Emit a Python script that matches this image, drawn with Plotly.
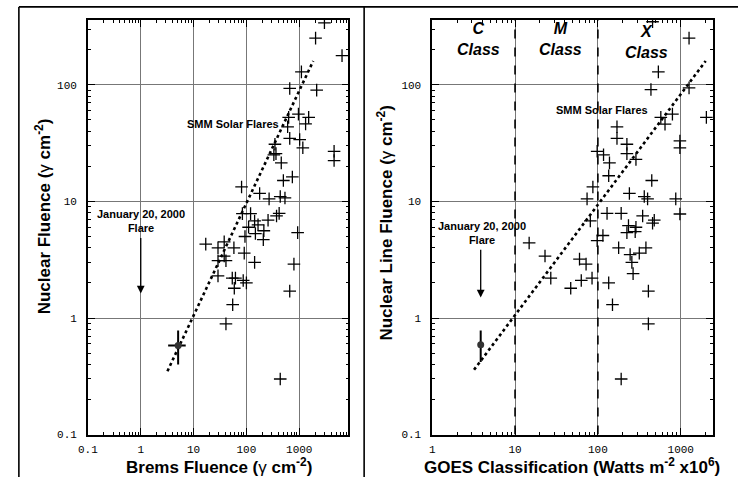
import numpy as np
import plotly.graph_objects as go

W, H = 738, 484

# ---------------- data ----------------
brems_fluence = [3000, 2040, 6460, 1100, 661, 2140, 966, 1510, 631, 1320, 603, 661, 1020, 1170,
                 347, 363, 331, 457, 4570, 4570, 501, 741, 81, 178, 269, 437, 537, 84, 120, 417,
                 372, 257, 143, 110, 166, 148, 214, 209, 94, 933, 17, 29, 38, 58, 91, 38, 29, 41,
                 143, 29, 794, 54, 62, 87, 100, 59, 661, 55, 41, 437]
nuclear_fluence = [340, 251, 178, 129, 93, 90, 56, 52.5, 52.5, 46.2, 43.6, 34.7, 33.9, 28.8,
                   30.9, 25.7, 25.1, 21.4, 26.9, 22.4, 15.1, 16.2, 13.3, 11.7, 10.5, 11.0, 10.7, 7.85, 7.85, 7.9,
                   7.5, 6.9, 6.8, 6.0, 6.3, 5.3, 5.6, 4.7, 5.0, 5.4, 4.3, 4.0, 4.5, 4.0, 3.6, 3.4, 3.1, 3.1,
                   3.0, 2.3, 2.9, 2.2, 2.2, 2.1, 2.0, 1.8, 1.7, 1.3, 0.89, 0.30]

goes_class = [457, 1260, 537, 437, 1260, 2040, 794, 575, 646, 170, 170, 224, 977, 977,
              98, 117, 224, 288, 138, 135, 447, 87, 74, 240, 363, 398, 871, 977, 129, 191,
              347, 479, 457, 234, 288, 224, 282, 81, 98, 115, 178, 245, 257, 316, 380, 266,
              14.8, 23, 27, 60, 72, 63, 47, 85, 135, 150, 407, 407, 191]
nuclear_line_fluence = [347, 251, 129, 91, 94, 52.5, 56, 52.5, 46, 43.6, 34.7, 30.9, 33, 28.8,
                        26.9, 25.1, 25.7, 22.9, 21.4, 16.6, 15.1, 13.3, 10.5, 11.7, 11.0, 10.5, 10.5, 7.8, 7.9, 7.9,
                        7.5, 6.9, 6.5, 6.2, 6.0, 5.4, 5.5, 6.8, 4.6, 5.1, 4.0, 3.5, 3.0, 3.6, 4.0, 2.4,
                        4.4, 3.4, 2.2, 3.2, 2.9, 2.1, 1.8, 2.2, 2.0, 1.3, 1.7, 0.89, 0.30]

# January 20, 2000 flare
jan_brems = [5.1]
jan_brems_lo = [3.3]
jan_brems_hi = [7.1]
jan_nuclear = [0.58]
jan_nuclear_lo = [0.40]
jan_nuclear_hi = [0.78]
jan_goes = [3.85]
jan_line = [0.59]
jan_line_lo = [0.42]
jan_line_hi = [0.78]

# fitted trend lines (end points)
fit_brems_x = [3.2, 1840]
fit_brems_y = [0.35, 160]
fit_goes_x = [3.2, 2000]
fit_goes_y = [0.36, 160]

# GOES class boundaries
class_bounds = [10, 100]
class_names = ["C", "M", "X"]

# tick labels
x1_ticks = [0.1, 1, 10, 100, 1000]
x1_labels = ["0.1", "1", "10", "100", "1000"]
x2_ticks = [1, 10, 100, 1000]
x2_labels = ["1", "10", "100", "1000"]
y_ticks = [0.1, 1, 10, 100]
y_labels = ["0.1", "1", "10", "100"]

# ---------------- layout geometry ----------------
def px(x):
    return x / W

def py(y):
    return 1 - y / H

Y_RANGE = [-1, 2.558]
X1_RANGE = [-1, 3.93]
X2_RANGE = [0, 3.39]

def minor_vals(lo_exp, hi_exp):
    return [m * 10.0 ** e for e in range(lo_exp, hi_exp) for m in range(2, 10)]

fig = go.Figure()

cross = dict(symbol="cross-thin", size=9, color="black", line=dict(color="black", width=1.3))

# --- left panel
fig.add_trace(go.Scatter(x=brems_fluence, y=nuclear_fluence, mode="markers", marker=cross,
                         xaxis="x", yaxis="y", showlegend=False))
fig.add_trace(go.Scatter(x=fit_brems_x, y=fit_brems_y, mode="lines",
                         line=dict(color="black", width=2.6, dash="dot"),
                         xaxis="x", yaxis="y", showlegend=False))
fig.add_trace(go.Scatter(
    x=jan_brems, y=jan_nuclear, mode="markers",
    marker=dict(symbol="circle", size=7, color="#333"),
    error_x=dict(type="data", symmetric=False,
                 array=[h - v for h, v in zip(jan_brems_hi, jan_brems)],
                 arrayminus=[v - l for l, v in zip(jan_brems_lo, jan_brems)],
                 color="black", thickness=2, width=0),
    error_y=dict(type="data", symmetric=False,
                 array=[h - v for h, v in zip(jan_nuclear_hi, jan_nuclear)],
                 arrayminus=[v - l for l, v in zip(jan_nuclear_lo, jan_nuclear)],
                 color="black", thickness=2, width=0),
    xaxis="x", yaxis="y", showlegend=False))

# --- right panel
top_val = 10 ** Y_RANGE[1]
for b in class_bounds:
    fig.add_trace(go.Scatter(x=[b, b], y=[0.1, top_val], mode="lines",
                             line=dict(color="black", width=1.6, dash="dash"),
                             xaxis="x2", yaxis="y2", showlegend=False))
fig.add_trace(go.Scatter(x=goes_class, y=nuclear_line_fluence, mode="markers", marker=cross,
                         xaxis="x2", yaxis="y2", showlegend=False))
fig.add_trace(go.Scatter(x=fit_goes_x, y=fit_goes_y, mode="lines",
                         line=dict(color="black", width=2.6, dash="dot"),
                         xaxis="x2", yaxis="y2", showlegend=False))
fig.add_trace(go.Scatter(
    x=jan_goes, y=jan_line, mode="markers",
    marker=dict(symbol="circle", size=7, color="#333"),
    error_y=dict(type="data", symmetric=False,
                 array=[h - v for h, v in zip(jan_line_hi, jan_line)],
                 arrayminus=[v - l for l, v in zip(jan_line_lo, jan_line)],
                 color="black", thickness=2, width=0),
    xaxis="x2", yaxis="y2", showlegend=False))

tickfont = dict(family="Liberation Mono", size=11, color="black")
common = dict(type="log", showline=True, linecolor="black", linewidth=1.6, mirror="ticks",
              ticks="inside", ticklen=7, tickwidth=1.2, tickcolor="black",
              showgrid=True, gridcolor="#777", gridwidth=0.8, zeroline=False,
              tickfont=tickfont, fixedrange=True)

def minor(vals):
    return dict(tickmode="array", tickvals=vals, ticks="inside", ticklen=3,
                tickcolor="black", tickwidth=1, showgrid=False)

yd = [py(441), py(20)]
fig.update_layout(
    width=W, height=H, margin=dict(l=0, r=0, t=0, b=0),
    paper_bgcolor="white", plot_bgcolor="white",
    xaxis=dict(common, domain=[px(79), px(343)], range=X1_RANGE, anchor="y",
               tickvals=x1_ticks, ticktext=x1_labels, minor=minor(minor_vals(-1, 4)),
               ticklabelstandoff=3),
    yaxis=dict(common, domain=yd, range=Y_RANGE, anchor="x",
               tickvals=y_ticks, ticktext=y_labels, minor=minor(minor_vals(-1, 3)),
               ticklabelstandoff=7),
    xaxis2=dict(common, domain=[px(428), px(712.7)], range=X2_RANGE, anchor="y2",
                tickvals=x2_ticks, ticktext=x2_labels, minor=minor(minor_vals(0, 4)),
                ticklabelstandoff=3),
    yaxis2=dict(common, domain=yd, range=Y_RANGE, anchor="x2",
                tickvals=y_ticks, ticktext=y_labels, minor=minor(minor_vals(-1, 3)),
                ticklabelstandoff=7),
)

bold = "Liberation Sans"
C = dict(xref="paper", yref="paper", xanchor="center", yanchor="middle", showarrow=False)
ann = []
# axis titles
ann.append(dict(C, text="<b>Brems Fluence (</b>γ<b> cm<sup>-2</sup>)</b>", x=px(212), y=py(473),
                font=dict(family=bold, size=17, color="black")))
ann.append(dict(C, text="<b>GOES Classification (Watts m<sup>-2</sup> x10<sup>6</sup>)</b>", x=px(570), y=py(473),
                font=dict(family=bold, size=17, color="black")))
ann.append(dict(C, text="<b>Nuclear Fluence (</b>γ<b> cm<sup>-2</sup>)</b>", x=px(33), y=py(220),
                textangle=-90, font=dict(family=bold, size=17, color="black")))
ann.append(dict(C, text="<b>Nuclear Line Fluence (</b>γ<b> cm<sup>-2</sup>)</b>", x=px(380), y=py(226),
                textangle=-90, font=dict(family=bold, size=17, color="black")))
# in-plot labels
small = dict(family=bold, size=11, color="black")
ann.append(dict(C, text="<b>SMM Solar Flares</b>", x=px(226), y=py(126), font=small))
ann.append(dict(C, text="<b>SMM Solar Flares</b>", x=px(600), y=py(112), font=small))
ann.append(dict(C, text="<b>January 20, 2000<br>Flare</b>", x=px(133), y=py(224), font=small))
ann.append(dict(C, text="<b>January 20, 2000<br>Flare</b>", x=px(478), y=py(236), font=small))
# arrows (annotation coords on log axes are log10 values)
ann.append(dict(x=np.log10(1), y=np.log10(1.62), ax=np.log10(1), ay=np.log10(5.0),
                xref="x", yref="y", axref="x", ayref="y", text="", showarrow=True,
                arrowhead=2, arrowsize=1.2, arrowwidth=1.3, arrowcolor="black"))
ann.append(dict(x=np.log10(jan_goes[0]), y=np.log10(1.5), ax=np.log10(jan_goes[0]), ay=np.log10(3.96),
                xref="x2", yref="y2", axref="x2", ayref="y2", text="", showarrow=True,
                arrowhead=2, arrowsize=1.2, arrowwidth=1.3, arrowcolor="black"))
# class labels
cls_font = dict(family=bold, size=16, color="black")
for name, xc, yc in zip(class_names, [475, 558, 645], [40, 40, 43]):
    ann.append(dict(C, text=f"<b><i>{name}<br>Class</i></b>", x=px(xc), y=py(yc), font=cls_font))
fig.update_layout(annotations=ann)

# outer frame
frame = dict(type="line", xref="paper", yref="paper", line=dict(color="black", width=1.6))
fig.update_layout(shapes=[
    dict(frame, x0=px(9), x1=1, y0=py(7), y1=py(7)),
    dict(frame, x0=px(9), x1=px(9), y0=py(7), y1=0),
    dict(frame, x0=px(359), x1=px(359), y0=py(7), y1=0),
])

fig.write_html("out.html", config={"displayModeBar": False},
               post_script="document.body.style.margin='0';document.body.style.overflow='hidden';")
